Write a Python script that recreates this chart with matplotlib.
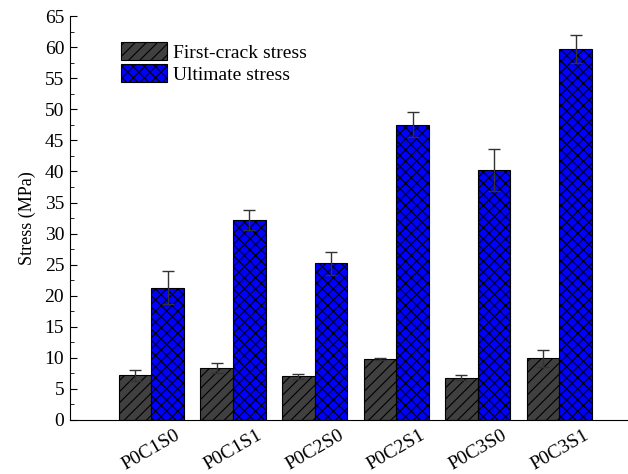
import matplotlib.pyplot as plt
import numpy as np
from matplotlib.ticker import MultipleLocator

plt.rcParams['font.family'] = ['Liberation Serif', 'DejaVu Serif']
plt.rcParams['hatch.linewidth'] = 0.8

samples = ['P0C1S0', 'P0C1S1', 'P0C2S0', 'P0C2S1', 'P0C3S0', 'P0C3S1']
first_crack = [7.2, 8.4, 7.0, 9.8, 6.8, 9.9]
first_crack_err = [0.9, 0.8, 0.4, 0.1, 0.4, 1.3]
ultimate = [21.3, 32.2, 25.2, 47.5, 40.2, 59.7]
ultimate_err = [2.6, 1.6, 1.9, 2.0, 3.4, 2.3]

fig = plt.figure(figsize=(6.28, 4.74), dpi=100)
ax = fig.add_axes([0.111, 0.114, 0.889, 0.852])

x = np.arange(len(samples))
w = 0.4
ax.bar(x - w / 2, first_crack, w, color='#404040', edgecolor='black', hatch='///',
       linewidth=0.8, label='First-crack stress')
ax.bar(x + w / 2, ultimate, w, color='#0000ff', edgecolor='black', hatch='xxx',
       linewidth=0.8, label='Ultimate stress')
ax.errorbar(x - w / 2, first_crack, yerr=first_crack_err, fmt='none', ecolor='#333333',
            elinewidth=1, capsize=4, capthick=1)
ax.errorbar(x + w / 2, ultimate, yerr=ultimate_err, fmt='none', ecolor='#333333',
            elinewidth=1, capsize=4, capthick=1)

ax.set_xlim(-1, 5.84)
ax.set_ylim(0, 65)
ax.yaxis.set_major_locator(MultipleLocator(5))
ax.yaxis.set_minor_locator(MultipleLocator(2.5))
ax.tick_params(axis='y', which='major', direction='in', length=5, labelsize=14, pad=4)
ax.tick_params(axis='y', which='minor', direction='in', length=3)
ax.tick_params(axis='x', length=0, labelsize=14, pad=5)
ax.set_xticks(x)
ax.set_xticklabels(samples, rotation=30, ha='center', va='top')
ax.set_ylabel('Stress (MPa)', fontsize=13, labelpad=6)

ax.spines['top'].set_visible(False)
ax.spines['right'].set_visible(False)

ax.legend(loc='upper left', bbox_to_anchor=(0.06, 0.98), frameon=False, fontsize=14,
          handlelength=2.4, handleheight=1.1, labelspacing=0.1, handletextpad=0.3)

plt.savefig('out.png', dpi=100)
